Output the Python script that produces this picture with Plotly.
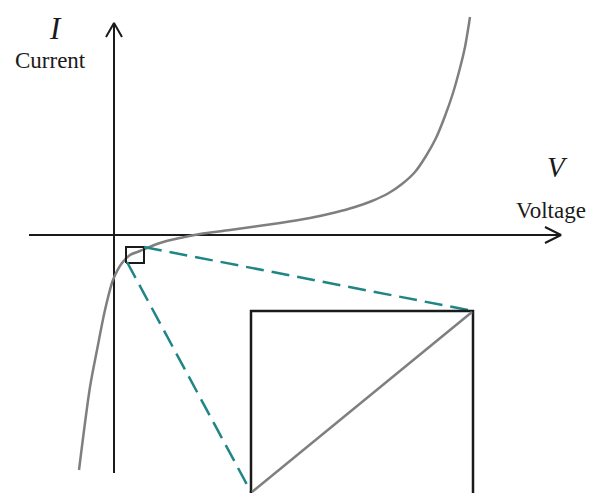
import plotly.graph_objects as go

# I-V characteristic (arbitrary units, origin at the axes crossing)
voltage = [-0.35, -0.24, -0.17, -0.09, -0.01, 0.08, 0.16, 0.26, 0.46, 0.66, 0.86,
           1.16, 1.66, 1.96, 2.21, 2.41, 2.58, 2.74, 2.88, 3.01, 3.12, 3.22, 3.31,
           3.39, 3.46, 3.51, 3.56]
current = [-2.35, -1.52, -1.15, -0.75, -0.45, -0.28, -0.20, -0.16, -0.08, -0.03, 0.01,
           0.05, 0.12, 0.17, 0.225, 0.28, 0.34, 0.415, 0.51, 0.63, 0.79, 0.97, 1.19,
           1.42, 1.67, 1.88, 2.18]

# axes extents
x_axis_start, x_axis_end = -0.85, 4.47
y_axis_start, y_axis_end = -2.38, 2.12

# small zoom window on the curve and the magnified inset
zoom_x = [0.12, 0.30]
zoom_y = [-0.28, -0.12]
inset_x = [1.37, 3.59]
inset_y = [-2.60, -0.76]

GRAY = "#7f7f7f"
TEAL = "#1f8585"
BLACK = "#1a1a1a"

fig = go.Figure()

def line(xs, ys, color, width, dash=None):
    fig.add_trace(go.Scatter(x=xs, y=ys, mode="lines",
                             line=dict(color=color, width=width, dash=dash),
                             hoverinfo="skip", showlegend=False))

# axes with open arrow heads
line([x_axis_start, x_axis_end], [0, 0], BLACK, 2)
line([x_axis_end - 0.16, x_axis_end, x_axis_end - 0.16], [0.08, 0, -0.08], BLACK, 2)
line([0, 0], [y_axis_start, y_axis_end], BLACK, 2)
line([-0.08, 0, 0.08], [y_axis_end - 0.14, y_axis_end, y_axis_end - 0.14], BLACK, 2)

# characteristic curve
fig.add_trace(go.Scatter(x=voltage, y=current, mode="lines",
                         line=dict(color=GRAY, width=2.5, shape="spline", smoothing=0.8),
                         hoverinfo="skip", showlegend=False))

# zoom window
line([zoom_x[0], zoom_x[1], zoom_x[1], zoom_x[0], zoom_x[0]],
     [zoom_y[0], zoom_y[0], zoom_y[1], zoom_y[1], zoom_y[0]], BLACK, 2)

# projection lines to the inset
line([zoom_x[1], inset_x[1]], [zoom_y[1], inset_y[1]], TEAL, 2.5, "18px,8px")
line([zoom_x[0] + 0.01, inset_x[0]], [zoom_y[0] + 0.01, inset_y[0] + 0.03], TEAL, 2.5, "18px,8px")

# inset frame (open at the bottom) and magnified, nearly linear segment
line([inset_x[0], inset_x[0], inset_x[1], inset_x[1]],
     [inset_y[0], inset_y[1], inset_y[1], inset_y[0]], BLACK, 2.5)
line([inset_x[0] + 0.01, inset_x[1] - 0.01], [inset_y[0] + 0.03, inset_y[1] - 0.01], GRAY, 2.5)

serif = "Liberation Serif"
labels = [
    dict(x=-0.59, y=2.07, text="<i>I</i>", size=31),
    dict(x=-0.64, y=1.75, text="Current", size=23),
    dict(x=4.43, y=0.68, text="<i>V</i>", size=29),
    dict(x=4.37, y=0.25, text="Voltage", size=23),
]
for lb in labels:
    fig.add_annotation(x=lb["x"], y=lb["y"], text=lb["text"], showarrow=False,
                       font=dict(family=serif, size=lb["size"], color=BLACK),
                       xanchor="center", yanchor="middle")

fig.update_layout(
    width=591, height=493,
    margin=dict(l=0, r=0, t=0, b=0),
    paper_bgcolor="white", plot_bgcolor="white",
    xaxis=dict(range=[-1.14, 4.77], visible=False, fixedrange=True),
    yaxis=dict(range=[-2.58, 2.35], visible=False, fixedrange=True),
)

fig.write_html("out.html")
